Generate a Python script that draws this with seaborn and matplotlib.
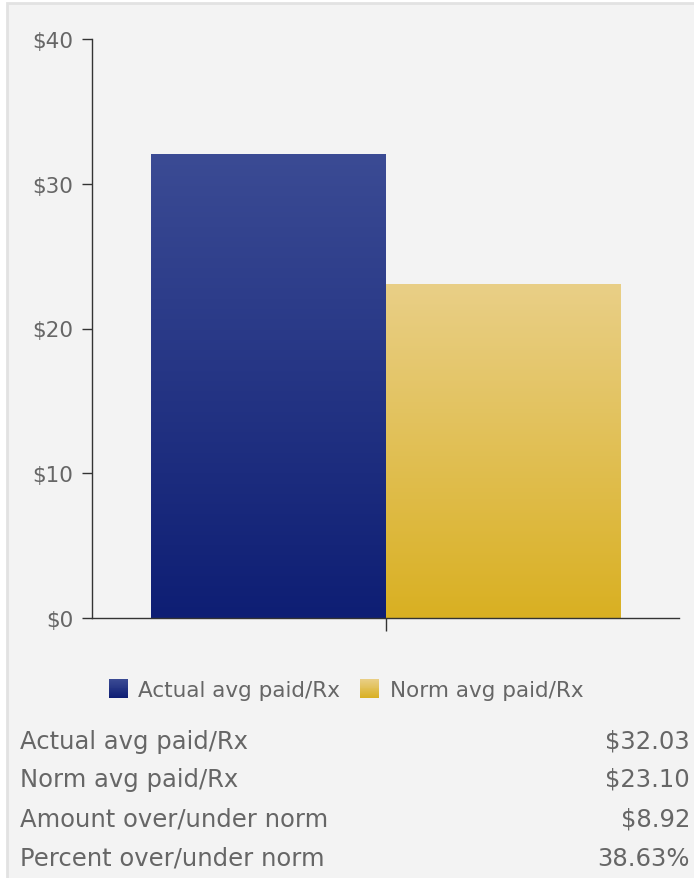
import numpy as np
import pandas as pd
import matplotlib
matplotlib.use("Agg")
import matplotlib.pyplot as plt
import matplotlib.colors as mcolors
from matplotlib.patches import Rectangle
from matplotlib.legend_handler import HandlerBase
import seaborn as sns

# ---- data ----
series = ["Actual avg paid/Rx", "Norm avg paid/Rx"]
values = [32.03, 23.10]
yticks = [0, 10, 20, 30, 40]
ytick_labels = ["$0", "$10", "$20", "$30", "$40"]
table_labels = ["Actual avg paid/Rx", "Norm avg paid/Rx",
                "Amount over/under norm", "Percent over/under norm"]
table_values = ["$32.03", "$23.10", "$8.92", "38.63%"]

# gradient colours (top, bottom)
grads = [("#3b4b94", "#0e1e74"), ("#e9cf87", "#d9b022")]
text_color = "#666666"
bg = "#f3f3f3"

sns.set_style("white")
plt.rcParams["font.family"] = ["DejaVu Sans"]

W, H = 694, 879
fig = plt.figure(figsize=(W / 100, H / 100), dpi=100)
fig.patch.set_facecolor("white")
fig.patches.append(Rectangle((7 / W, -0.01), (W - 7) / W + 0.01, 1 - 4 / H + 0.01,
                             transform=fig.transFigure, facecolor=bg,
                             edgecolor="#e2e2e2", linewidth=2, zorder=-10))

ax = fig.add_axes([92 / W, 1 - 619 / H, (679 - 92) / W, (619 - 40) / H])
ax.set_facecolor("none")

df = pd.DataFrame({"cat": ["All"] * len(series), "series": series, "value": values})
sns.barplot(data=df, x="cat", y="value", hue="series", ax=ax,
            palette=[g[1] for g in grads], width=0.8, legend=False,
            saturation=1, linewidth=0)

# gradient fill clipped to each bar
for patch, (top, bot) in zip(ax.patches, grads):
    x0 = patch.get_x()
    w = patch.get_width()
    h = patch.get_height()
    cmap = mcolors.LinearSegmentedColormap.from_list("g", [bot, top])
    grad = np.linspace(0, 1, 256).reshape(-1, 1)
    im = ax.imshow(grad, cmap=cmap, origin="lower", aspect="auto",
                   extent=(x0, x0 + w, 0, h), zorder=patch.get_zorder())
    im.set_clip_path(patch)
    patch.set_facecolor("none")
ax.set_xlim(-0.5, 0.5)
ax.set_ylim(0, 40)

ax.set_yticks(yticks)
ax.set_yticklabels(ytick_labels)
ax.set_xticks([0])
ax.set_xticklabels([""])
ax.set_xlabel("")
ax.set_ylabel("")
for s in ["top", "right"]:
    ax.spines[s].set_visible(False)
for s in ["left", "bottom"]:
    ax.spines[s].set_color("#333333")
    ax.spines[s].set_linewidth(1.0)
ax.tick_params(axis="y", length=7, width=1, color="#333333", labelcolor=text_color,
               labelsize=15.5, pad=6.5, left=True)
ax.tick_params(axis="x", length=9.5, width=1, color="#333333", bottom=True)


class GradHandler(HandlerBase):
    def __init__(self, top, bot):
        super().__init__()
        self.top, self.bot = top, bot

    def create_artists(self, legend, orig_handle, xdescent, ydescent, width, height,
                       fontsize, trans):
        n = 20
        c0 = np.array(mcolors.to_rgb(self.bot))
        c1 = np.array(mcolors.to_rgb(self.top))
        side = 19 * 0.72
        x = -xdescent + (width - side) / 2
        y = -ydescent + (height - side) / 2
        arts = []
        for i in range(n):
            t = (i + 0.5) / n
            r = Rectangle((x, y + side * i / n), side, side / n + 0.05,
                          facecolor=c0 + (c1 - c0) * t, edgecolor="none",
                          transform=trans)
            arts.append(r)
        return arts


handles = [Rectangle((0, 0), 1, 1) for _ in series]
hmap = {h: GradHandler(*g) for h, g in zip(handles, grads)}
leg = fig.legend(handles, series, handler_map=hmap, loc="center",
                 bbox_to_anchor=(346 / W, 1 - 691 / H), ncol=2, frameon=False,
                 fontsize=15.5, handlelength=0.9, handletextpad=0.5,
                 columnspacing=0.9, labelcolor=text_color)

rows_y = [742, 780, 820, 859]
for lab, val, yy in zip(table_labels, table_values, rows_y):
    fig.text(20 / W, 1 - yy / H, lab, ha="left", va="center", fontsize=17.5,
             color=text_color)
    fig.text(690 / W, 1 - yy / H, val, ha="right", va="center", fontsize=17.5,
             color=text_color)

fig.savefig("out.png", dpi=100, facecolor=fig.get_facecolor())
